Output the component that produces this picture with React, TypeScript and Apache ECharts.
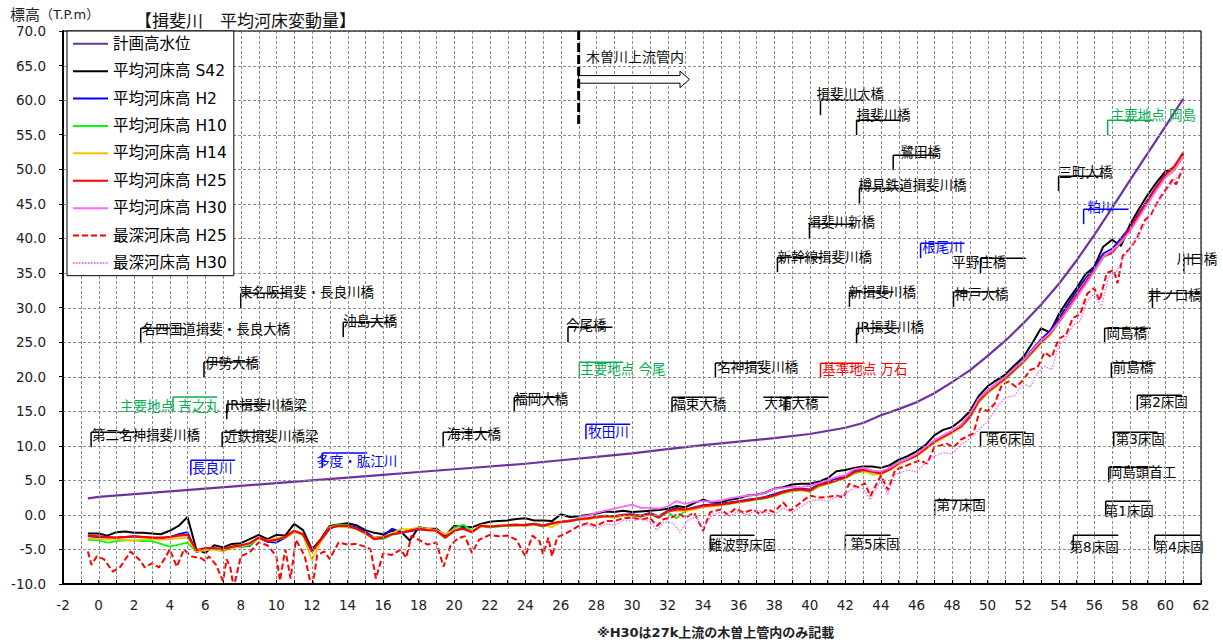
import React, { useEffect, useRef } from 'react';
import * as echarts from 'echarts';

const FONT = "'DejaVu Sans', 'Noto Sans CJK JP', sans-serif";

// grid-line positions (km every 1, elevation every 5)
const gridKm = [
  -2, -1, 0, 1, 2, 3, 4, 5, 6, 7, 8, 9, 10, 11, 12, 13, 14, 15, 16, 17, 18, 19, 20,
  21, 22, 23, 24, 25, 26, 27, 28, 29, 30, 31, 32, 33, 34, 35, 36, 37, 38, 39, 40,
  41, 42, 43, 44, 45, 46, 47, 48, 49, 50, 51, 52, 53, 54, 55, 56, 57, 58, 59, 60, 61, 62,
];
const gridElev = [-10, -5, 0, 5, 10, 15, 20, 25, 30, 35, 40, 45, 50, 55, 60, 65, 70];

// distance (km) shared by the average-bed series
const km = [
  -0.6, 0, 0.5, 1, 1.5, 2, 2.5, 3, 3.5, 4,
  4.5, 5, 5.5, 6, 6.5, 7, 7.5, 8, 8.5, 9,
  9.5, 10, 10.5, 11, 11.5, 12, 12.5, 13, 13.5, 14,
  14.5, 15, 15.5, 16, 16.5, 17, 17.5, 18, 18.5, 19,
  19.5, 20, 20.5, 21, 21.5, 22, 22.5, 23, 23.5, 24,
  24.5, 25, 25.5, 26, 26.5, 27, 27.5, 28, 28.5, 29,
  29.5, 30, 30.5, 31, 31.5, 32, 32.5, 33, 33.5, 34,
  34.5, 35, 35.5, 36, 36.5, 37, 37.5, 38, 38.5, 39,
  39.5, 40, 40.5, 41, 41.5, 42, 42.5, 43, 43.5, 44,
  44.5, 45, 45.5, 46, 46.5, 47, 47.5, 48, 48.5, 49,
  49.5, 50, 50.5, 51, 51.5, 52, 52.5, 53, 53.5, 54,
  54.5, 55, 55.5, 56, 56.5, 57, 57.5, 58, 58.5, 59,
  59.5, 60, 60.5, 61,
];

// 計画高水位
const hwlKm = [-0.6, 0, 2, 4, 6, 8, 10, 12, 14, 16, 18, 20, 22, 24, 26, 28, 30, 32, 34, 36, 38, 40, 42, 43, 44, 45, 46, 47, 48, 49, 50, 51, 52, 53, 54, 55, 56, 57, 58, 59, 60, 61];
const hwlLevel = [2.4, 2.6, 3.0, 3.4, 3.8, 4.2, 4.6, 5.0, 5.4, 5.8, 6.2, 6.6, 7.0, 7.4, 7.9, 8.4, 8.9, 9.5, 10.1, 10.6, 11.1, 11.7, 12.6, 13.3, 14.4, 15.3, 16.3, 17.6, 19.2, 20.9, 23.0, 25.2, 27.7, 30.4, 33.4, 36.8, 40.5, 44.4, 48.4, 52.3, 56.2, 60.2];

const bedS42 = [
  -2.7, -2.7, -3.0, -2.5, -2.4, -2.6, -2.6, -2.7, -2.8, -2.3,
  -1.6, -0.3, -5.0, -5.5, -4.4, -4.7, -4.2, -4.1, -3.5, -2.9,
  -3.5, -2.9, -3.0, -1.3, -2.2, -5.0, -3.5, -1.6, -1.4, -1.2,
  -1.5, -2.2, -2.6, -2.8, -2.3, -2.4, -3.7, -1.8, -2.0, -2.0,
  -3.0, -1.6, -1.7, -1.8, -1.3, -1.0, -0.9, -0.8, -0.6, -0.5,
  -0.8, -0.8, -0.9, 0.1, -0.3, -0.2, 0.0, 0.2, 0.5, 0.4,
  0.6, 0.4, 0.5, 0.6, 0.7, 0.9, 1.3, 1.1, 1.7, 2.2,
  1.8, 1.8, 2.2, 2.4, 2.8, 2.9, 3.2, 3.8, 4.0, 4.4,
  4.5, 4.5, 4.8, 5.3, 6.3, 6.5, 6.8, 7.0, 7.0, 6.8,
  7.2, 8.0, 8.5, 9.2, 10.1, 11.5, 12.3, 12.7, 13.7, 15.0,
  17.2, 18.6, 19.5, 20.3, 21.6, 22.8, 24.8, 27.0, 26.4, 29.0,
  31.0, 32.8, 34.8, 35.9, 38.8, 39.8, 38.9, 42.0, 44.2, 46.3,
  48.1, 49.7, 50.2, 52.2,
];

const bedH2 = [
  -3.1, -3.2, -3.3, -3.3, -3.2, -3.1, -3.2, -3.3, -3.4, -3.2,
  -2.8, -2.5, -5.4, -5.0, -4.9, -5.0, -4.7, -4.6, -4.5, -3.3,
  -3.9, -4.0, -3.3, -2.4, -2.9, -5.1, -3.8, -2.0, -1.5, -1.5,
  -1.8, -2.4, -3.3, -3.1, -2.0, -2.5, -2.4, -2.1, -2.2, -2.1,
  -3.2, -2.2, -1.9, -2.4, -1.6, -1.7, -1.6, -1.6, -1.5, -1.4,
  -1.3, -1.5, -1.3, -1.0, -0.8, -0.7, -0.5, -0.4, -0.1, -0.2,
  0.0, 0.1, -0.1, 0.3, -0.2, 0.6, 1.0, 0.7, 1.1, 1.4,
  1.5, 1.6, 1.8, 2.0, 2.2, 2.4, 2.6, 3.0, 3.4, 3.7,
  3.8, 3.7, 4.4, 4.8, 5.2, 5.6, 6.4, 6.6, 6.4, 6.1,
  6.8, 7.6, 8.1, 8.7, 9.8, 10.7, 11.4, 12.1, 13.0, 14.5,
  16.8, 18.0, 19.0, 20.0, 21.2, 22.4, 23.9, 25.4, 26.6, 28.4,
  30.4, 32.4, 34.2, 35.8, 37.8, 38.5, 40.0, 41.6, 43.6, 45.6,
  47.5, 49.3, 50.4, 52.2,
];

const bedH10 = [
  -3.6, -3.7, -4.0, -3.8, -3.7, -3.7, -3.8, -3.8, -4.2, -4.6,
  -4.3, -4.0, -5.3, -5.0, -5.0, -5.2, -4.8, -4.6, -4.4, -3.4,
  -3.8, -3.6, -3.3, -2.4, -2.9, -5.4, -3.7, -1.8, -1.4, -1.5,
  -2.0, -2.7, -3.4, -3.5, -2.9, -2.6, -2.1, -1.9, -2.1, -2.2,
  -3.4, -1.9, -1.4, -2.3, -1.6, -1.8, -1.7, -1.6, -1.5, -1.6,
  -1.4, -1.7, -1.3, -1.1, -0.9, -0.7, -0.6, -0.4, -0.3, -0.4,
  -0.1, -0.1, -0.3, 0.1, -0.3, 0.4, -0.5, 0.6, 0.9, 1.2,
  1.3, 1.4, 1.6, 1.8, 2.0, 2.2, 2.4, 2.7, 3.1, 3.4,
  3.6, 3.3, 4.1, 4.5, 4.9, 5.3, 6.0, 6.3, 6.1, 5.9,
  6.5, 7.4, 7.9, 8.5, 9.5, 10.4, 11.2, 11.9, 12.7, 14.0,
  16.2, 17.6, 18.6, 19.6, 20.8, 22.0, 23.4, 24.8, 26.0, 27.8,
  29.6, 31.6, 33.4, 35.2, 37.2, 38.0, 39.4, 41.2, 43.2, 45.2,
  47.2, 49.0, 50.2, 52.0,
];

const bedH14 = [
  -3.4, -3.5, -3.6, -3.5, -3.6, -3.8, -3.5, -3.5, -3.6, -3.5,
  -3.4, -3.3, -5.3, -5.1, -5.0, -5.3, -4.9, -4.5, -4.2, -3.4,
  -3.7, -3.4, -3.3, -2.5, -2.9, -6.6, -3.9, -1.7, -1.7, -1.8,
  -2.0, -2.8, -3.3, -3.2, -2.7, -2.0, -2.1, -1.9, -2.0, -2.2,
  -2.8, -2.1, -2.1, -2.4, -1.5, -1.6, -1.6, -1.5, -1.5, -1.6,
  -1.3, -1.5, -1.8, -1.1, -0.8, -0.6, -0.6, -0.4, -0.3, -0.3,
  -0.1, 0.0, -0.2, 0.2, -0.3, 0.5, 0.6, 0.5, 0.8, 1.1,
  1.2, 1.4, 1.7, 1.8, 2.0, 2.3, 2.5, 2.7, 3.2, 3.5,
  3.6, 3.4, 4.2, 4.5, 4.9, 5.3, 6.1, 6.4, 5.8, 5.9,
  6.5, 7.3, 7.9, 8.5, 9.4, 10.4, 11.1, 11.9, 12.6, 14.1,
  16.3, 17.6, 18.6, 19.7, 20.9, 22.0, 23.5, 24.8, 26.0, 27.9,
  29.6, 31.6, 33.5, 35.3, 37.3, 38.2, 39.5, 41.3, 43.3, 45.3,
  47.3, 49.1, 50.1, 52.0,
];

const bedH25 = [
  -3.0, -3.1, -3.2, -3.3, -3.2, -3.1, -3.2, -3.3, -3.3, -3.2,
  -3.0, -2.9, -5.1, -4.8, -4.8, -5.0, -4.6, -4.4, -4.1, -3.3,
  -3.8, -3.6, -3.2, -2.3, -2.8, -5.3, -3.6, -1.9, -1.6, -1.6,
  -2.0, -2.6, -3.5, -3.3, -2.8, -2.6, -2.3, -2.0, -2.2, -2.3,
  -3.3, -2.3, -2.0, -2.5, -1.6, -1.7, -1.6, -1.5, -1.4, -1.5,
  -1.3, -1.6, -1.2, -1.0, -0.9, -0.6, -0.5, -0.3, -0.2, -0.2,
  0.0, 0.0, -0.2, 0.2, -0.4, 0.5, 0.8, 0.8, 1.0, 1.3,
  1.4, 1.5, 1.7, 1.9, 2.1, 2.3, 2.5, 2.8, 3.3, 3.6,
  3.7, 3.5, 4.3, 4.6, 5.0, 5.4, 6.2, 6.5, 6.3, 6.0,
  6.6, 7.5, 8.0, 8.6, 9.6, 10.6, 11.3, 12.0, 12.8, 14.2,
  16.5, 17.8, 18.8, 19.8, 21.0, 22.2, 23.6, 25.0, 26.2, 28.0,
  29.8, 31.8, 33.6, 35.4, 37.4, 37.9, 39.6, 41.4, 43.4, 45.4,
  47.4, 49.2, 50.4, 52.4,
];

// H30 is surveyed only upstream of 27 km
const bedH30StartKm = 27;
const bedH30 = [
  -0.3, -0.1, 0.3, 0.6, 0.9, 1.2, 1.5, 1.0, 1.0, 0.9,
  1.2, 2.0, 1.6, 1.9, 2.0, 1.9, 2.1, 2.4, 2.6, 2.8,
  2.9, 3.2, 3.8, 3.9, 4.1, 4.0, 4.2, 4.6, 5.0, 5.5,
  5.7, 6.6, 6.8, 6.4, 6.3, 6.8, 7.6, 8.1, 8.8, 9.8,
  10.8, 11.5, 12.2, 13.0, 14.6, 16.8, 18.0, 19.0, 20.0, 21.2,
  22.3, 23.8, 25.2, 26.3, 27.8, 29.6, 31.4, 33.3, 35.2, 37.3,
  38.2, 39.5, 41.0, 43.0, 45.0, 47.0, 48.8, 49.8, 51.8,
];

const deepH25Km = [
  -0.6, -0.4, -0.1, 0.3, 0.8, 1.2, 1.8, 2.3, 2.6, 3.0,
  3.4, 3.8, 4.0, 4.4, 4.8, 5.2, 5.8, 6.0, 6.2, 6.6,
  7.0, 7.2, 7.4, 7.6, 8.0, 8.5, 9.0, 9.5, 10.0, 10.2,
  10.5, 10.8, 11.1, 11.6, 12.0, 12.3, 12.7, 13.0, 13.5, 14.0,
  14.5, 15.0, 15.3, 15.6, 16.0, 16.5, 17.0, 17.3, 17.6, 18.0,
  18.5, 19.0, 19.4, 19.8, 20.2, 20.6, 21.0, 21.4, 22.0, 22.5,
  23.0, 23.5, 24.0, 24.4, 24.8, 25.0, 25.3, 25.5, 25.8, 26.2,
  26.6, 27.0, 27.5, 28.0, 28.5, 29.0, 29.5, 30.0, 30.5, 31.0,
  31.4, 31.8, 32.2, 32.6, 33.0, 33.5, 34.0, 34.4, 35.0, 35.4,
  35.8, 36.3, 36.8, 37.2, 37.6, 38.0, 38.5, 38.9, 39.3, 40.0,
  40.5, 41.0, 41.5, 41.9, 42.2, 42.7, 43.1, 43.4, 44.0, 44.4,
  44.8, 45.5, 46.2, 46.6, 47.0, 47.7, 48.1, 48.5, 49.2, 49.6,
  50.0, 50.4, 50.8, 51.2, 51.6, 52.0, 52.4, 52.8, 53.2, 53.6,
  54.0, 54.4, 54.8, 55.2, 55.6, 56.0, 56.3, 56.7, 57.1, 57.3,
  57.6, 58.0, 58.4, 58.8, 59.2, 59.6, 60.0, 60.4, 60.6, 61.0,
];
const deepH25 = [
  -5.3, -7.2, -6.0, -6.4, -8.2, -7.6, -5.3, -6.5, -7.6, -7.0,
  -7.6, -6.0, -5.0, -7.5, -5.0, -6.0, -6.3, -6.7, -6.0, -7.2,
  -9.6, -6.4, -7.5, -10.5, -6.0, -5.4, -4.0, -4.4, -6.0, -9.5,
  -5.0, -9.2, -3.6, -6.0, -10.8, -5.8, -5.3, -6.4, -4.0, -4.3,
  -4.2, -4.6, -5.0, -9.2, -5.6, -5.8, -5.0, -6.2, -3.0, -3.6,
  -4.3, -4.0, -7.5, -4.4, -3.4, -3.1, -5.5, -3.6, -2.9, -3.1,
  -3.0, -3.6, -6.0, -3.0, -3.8, -5.7, -3.3, -6.0, -3.2, -2.8,
  -2.2, -1.6, -1.2, -1.6, -0.9, -0.9, -0.5, -0.4, -0.7, -0.4,
  -1.6, -0.6, -0.4, 0.2, -0.4, 0.3, -2.3, 0.4, 0.8, 0.0,
  0.9, 0.3, 0.8, 0.1, 0.8, 0.4, 1.8, 0.6, 1.4, 2.8,
  2.5, 2.6, 2.8, 2.5, 4.5, 4.0, 4.6, 2.7, 5.7, 3.6,
  6.5, 7.2, 7.9, 7.4, 9.8, 10.3, 9.8, 10.9, 11.8, 15.4,
  15.0, 16.1, 18.8, 19.3, 18.5, 19.5, 21.0, 21.3, 23.5, 22.8,
  25.5, 26.0, 28.5, 29.0, 32.0, 32.8, 31.0, 35.0, 35.4, 33.5,
  37.5, 38.5, 40.0, 42.5, 43.5, 45.5, 47.0, 48.5, 47.8, 50.3,
];

const deepH30Km = [
  27.0, 27.5, 28.0, 28.5, 29.0, 29.5, 30.0, 30.5, 31.0, 31.4,
  31.8, 32.3, 32.7, 33.1, 33.6, 34.0, 34.5, 35.0, 35.5, 36.0,
  36.5, 37.0, 37.5, 38.0, 38.5, 39.0, 39.5, 40.0, 40.5, 41.0,
  41.5, 42.0, 42.5, 43.0, 43.4, 44.0, 44.4, 44.8, 45.5, 46.0,
  46.5, 47.0, 47.5, 48.0, 48.5, 49.0, 49.5, 50.0, 50.5, 51.0,
  51.5, 52.0, 52.4, 52.8, 53.2, 53.6, 54.0, 54.4, 54.8, 55.2,
  55.6, 56.0, 56.4, 56.8, 57.2, 57.6, 58.0, 58.5, 59.0, 59.5,
  60.0, 60.5, 61.0,
];
const deepH30 = [
  -1.8, -1.4, -2.0, -1.3, -1.5, -0.8, -0.9, -0.6, -1.0, -2.2,
  -1.0, -1.2, -2.5, -0.8, -0.3, -1.9, 0.0, 0.4, -0.2, 0.5,
  0.0, 0.6, 0.4, 0.0, 1.0, 0.3, 1.2, 2.0, 2.2, 2.0,
  2.6, 3.0, 4.0, 3.8, 2.2, 5.0, 3.0, 5.8, 6.5, 6.2,
  7.5, 8.5, 9.0, 8.8, 10.2, 11.0, 12.3, 13.5, 15.5, 17.0,
  17.2, 19.0, 18.5, 20.5, 21.5, 21.0, 24.5, 25.5, 27.5, 28.0,
  31.0, 32.0, 30.0, 34.5, 35.0, 37.0, 38.5, 40.5, 42.8, 45.0,
  46.8, 48.3, 50.0,
];

const seriesNames = [
  '計画高水位', '平均河床高 S42', '平均河床高 H2', '平均河床高 H10', '平均河床高 H14',
  '平均河床高 H25', '平均河床高 H30', '最深河床高 H25', '最深河床高 H30',
];

// label rows: [name, bracket km, bracket elevation, line start km, line end km, text km, text elevation]
type Lbl = [string, number, number, number, number, number, number];

const bridgeLabels: Lbl[] = [
  ['第二名神揖斐川橋', -0.42, 11.95, -0.42, 2.16, -0.37, 11.52],
  ['近鉄揖斐川橋梁', 6.95, 11.95, 6.95, 9.48, 7.06, 11.37],
  ['JR揖斐川橋梁', 7.21, 16.0, 7.21, 9.65, 7.17, 15.86],
  ['伊勢大橋', 5.93, 22.13, 5.93, 8.64, 5.99, 21.94],
  ['名四国道揖斐・長良大橋', 2.37, 27.0, 2.37, 4.87, 2.43, 26.86],
  ['東名阪揖斐・長良川橋', 8.0, 32.07, 8.0, 10.6, 7.9, 32.21],
  ['油島大橋', 13.76, 27.87, 13.76, 16.68, 13.76, 28.1],
  ['海津大橋', 19.38, 11.95, 19.38, 22.03, 19.59, 11.66],
  ['福岡大橋', 23.38, 17.02, 23.38, 25.97, 23.38, 16.73],
  ['今尾橋', 26.4, 27.15, 26.4, 28.9, 26.29, 27.44],
  ['福束大橋', 32.25, 17.02, 32.25, 34.75, 32.27, 16.0],
  ['名神揖斐川橋', 34.69, 21.98, 34.69, 37.22, 34.8, 21.36],
  ['大埔大橋', 38.63, 17.02, 37.39, 41.05, 37.45, 16.15],
  ['新幹線揖斐川橋', 38.18, 37.28, 38.18, 40.71, 38.18, 37.28],
  ['揖斐川新橋', 39.98, 42.05, 39.98, 42.46, 39.87, 42.39],
  ['新揖斐川橋', 42.23, 32.26, 42.23, 44.71, 42.18, 32.26],
  ['JR揖斐川橋', 42.63, 27.0, 42.63, 45.1, 42.63, 27.15],
  ['樽見鉄道揖斐川橋', 42.79, 47.22, 42.79, 45.27, 42.74, 47.7],
  ['鷺田橋', 44.69, 52.04, 44.69, 47.18, 45.1, 52.52],
  ['揖斐川橋', 42.63, 57.1, 42.63, 45.1, 42.63, 57.83],
  ['揖斐川大橋', 40.6, 60.0, 40.6, 43.08, 40.37, 60.87],
  ['神戸大橋', 48.08, 32.26, 48.08, 50.56, 48.14, 31.93],
  ['平野庄橋', 49.6, 37.13, 49.6, 52.14, 48.01, 36.6],
  ['三町大橋', 53.99, 49.0, 53.99, 56.47, 53.99, 49.62],
  ['岡島橋', 56.58, 27.0, 56.58, 59.17, 56.69, 26.28],
  ['前島橋', 56.96, 21.98, 56.96, 59.45, 57.03, 21.4],
  ['井ノ口橋', 59.27, 32.07, 59.0, 61.98, 59.0, 31.79],
  ['川口橋', 61.03, 37.13, 61.03, 61.98, 60.63, 36.99],
  ['岡島頭首工', 56.81, 6.89, 56.81, 59.28, 56.81, 6.21],
];

const sillLabels: Lbl[] = [
  ['難波野床固', 34.41, -2.95, 34.41, 36.89, 34.3, -4.4],
  ['第5床固', 42.0, -2.95, 42.0, 44.54, 42.29, -4.27],
  ['第7床固', 47.02, 2.11, 47.02, 49.6, 47.13, 1.39],
  ['第6床固', 49.6, 11.95, 49.6, 52.14, 49.89, 10.94],
  ['第8床固', 54.82, -2.95, 54.82, 57.35, 54.61, -4.65],
  ['第1床固', 56.64, 1.97, 56.64, 59.17, 56.58, 0.56],
  ['第3床固', 57.09, 11.95, 57.09, 59.56, 57.2, 10.94],
  ['第2床固', 58.42, 17.31, 58.42, 60.92, 58.5, 16.34],
  ['第4床固', 59.4, -2.95, 59.4, 61.98, 59.4, -4.65],
];

const tributaryLabels: Lbl[] = [
  ['長良川', 5.19, 7.9, 5.19, 7.68, 5.26, 6.74],
  ['多度・肱江川', 12.58, 8.96, 12.58, 15.11, 12.24, 7.76],
  ['牧田川', 27.41, 13.11, 27.41, 29.9, 27.54, 12.0],
  ['根尾川', 46.23, 39.3, 46.23, 48.7, 46.32, 38.73],
  ['粕川', 55.4, 44.23, 55.4, 57.93, 55.62, 44.47],
];

const keyPointLabels: Lbl[] = [
  ['主要地点 吉之丸', 4.19, 17.06, 4.19, 6.67, 1.21, 15.76],
  ['主要地点 今尾', 27.04, 22.08, 27.04, 29.51, 27.09, 21.07],
  ['主要地点 岡島', 56.75, 57.1, 56.75, 59.28, 56.92, 57.83],
];

const baseLabels: Lbl[] = [
  ['基準地点 万石', 40.6, 21.94, 40.6, 43.08, 40.7, 21.07],
];

// 木曽川上流管内 boundary
const kisoLineKm = 27.0;
const kisoLineElev = [70, 56.5];
const kisoArrowKm = [27.0, 32.7, 33.23];
const kisoArrowElev = 63.0;
const kisoTextPos = [27.41, 66.2];

const KM_MIN = -2, KM_MAX = 62, EL_MIN = -10, EL_MAX = 70;
const crisp = (v: number) => Math.round(v) + 0.5;

function labelSeries(rows: Lbl[], color: string) {
  return {
    type: 'custom',
    coordinateSystem: 'cartesian2d',
    silent: true,
    clip: false,
    z: 6,
    data: rows.map((r) => [r[1], r[2]]),
    encode: { x: 0, y: 1 },
    renderItem: (params: any, api: any) => {
      const r = rows[params.dataIndex];
      const c = api.coord([r[1], r[2]]);
      const h0 = api.coord([r[3], r[2]]);
      const h1 = api.coord([r[4], r[2]]);
      const t = api.coord([r[5], r[6]]);
      return {
        type: 'group',
        children: [
          { type: 'line', shape: { x1: c[0], y1: c[1], x2: c[0], y2: c[1] + 15 }, style: { stroke: color, lineWidth: 1.5 } },
          { type: 'line', shape: { x1: h0[0], y1: h0[1], x2: h1[0], y2: h1[1] }, style: { stroke: color, lineWidth: 1.5 } },
          {
            type: 'text', x: t[0], y: t[1],
            style: { text: r[0], fill: color, fontSize: 13.5, fontFamily: FONT, align: 'left', verticalAlign: 'middle' },
          },
        ],
      };
    },
  };
}

export default function App() {
  const ref = useRef<HTMLDivElement>(null);
  useEffect(() => {
    const chart = echarts.init(ref.current!, undefined, { renderer: 'svg' });
    const upperKm = km.slice(km.indexOf(bedH30StartKm));
    const pairs = (xs: number[], ys: number[]) => xs.map((x, i) => [x, ys[i]]);
    const lineSeries = (name: string, data: number[][], color: string, width: number, type: any = 'solid') => ({
      name, type: 'line', data, symbol: 'none', showSymbol: false,
      lineStyle: { color, width, type }, itemStyle: { color },
      z: 3,
    });
    const option: any = {
      animation: false,
      textStyle: { fontFamily: FONT },
      grid: { left: 63, right: 22, top: 31, bottom: 60 },
      xAxis: {
        type: 'value', min: KM_MIN, max: KM_MAX, interval: 2,
        axisLine: { onZero: false, lineStyle: { color: '#000', width: 2 } },
        axisTick: { inside: true, length: 4, lineStyle: { color: '#000' } },
        minorTick: { show: true, splitNumber: 2, length: 4, lineStyle: { color: '#000' } },
        splitLine: { show: false },
        axisLabel: { fontSize: 13.5, color: '#222', margin: 14, fontFamily: FONT },
        z: 9,
      },
      yAxis: {
        type: 'value', min: EL_MIN, max: EL_MAX, interval: 5,
        axisLine: { show: true, onZero: false, lineStyle: { color: '#000', width: 2 } },
        axisTick: { show: true, inside: false, length: 4, lineStyle: { color: '#000' } },
        splitLine: { show: false },
        axisLabel: { fontSize: 13.5, color: '#222', margin: 17, fontFamily: FONT, formatter: (v: number) => v.toFixed(1) },
        z: 9,
      },
      legend: {
        orient: 'vertical', left: 67, top: 31,
        itemWidth: 35, itemHeight: 16, itemGap: 11.9,
        padding: [5, 7, 5, 5],
        borderColor: '#000', borderWidth: 1, backgroundColor: '#fff',
        textStyle: { fontSize: 15.5, color: '#000', fontFamily: FONT },
        itemStyle: { opacity: 0 },
        data: seriesNames,
        z: 10,
      },
      graphic: [
        {
          type: 'text', left: 10, top: 7,
          style: {
            text: '{a|標高}{b|（T.P.m）}', fill: '#222',
            rich: { a: { fontSize: 15, fontFamily: FONT, fill: '#222' }, b: { fontSize: 13, fontFamily: FONT, fill: '#222' } },
          },
        },
        {
          type: 'text', left: 135, top: 12,
          style: { text: '【揖斐川　平均河床変動量】', fontSize: 17, fontFamily: FONT, fill: '#111' },
        },
        {
          type: 'text', left: 597, top: 626,
          style: { text: '※H30は27k上流の木曽上管内のみ記載', fontSize: 13, fontWeight: 'bold', fontFamily: FONT, fill: '#222' },
        },
      ],
      series: [
        {
          type: 'custom', coordinateSystem: 'cartesian2d', silent: true, clip: false, z: 7,
          data: gridKm.map((k) => [k, EL_MIN]), encode: { x: 0, y: 1 },
          renderItem: (p: any, api: any) => {
            const k = gridKm[p.dataIndex];
            const a = api.coord([k, EL_MIN]);
            const b = api.coord([k, EL_MAX]);
            const x = crisp(a[0]);
            return { type: 'group', children: [{ type: 'line', shape: { x1: x, y1: a[1], x2: x, y2: b[1] }, style: { stroke: '#8c8c8c', lineWidth: 1, lineDash: [3, 2], opacity: 1 } }] };
          },
        },
        {
          type: 'custom', coordinateSystem: 'cartesian2d', silent: true, clip: false, z: 7,
          data: gridElev.map((e) => [KM_MIN, e]), encode: { x: 0, y: 1 },
          renderItem: (p: any, api: any) => {
            const e = gridElev[p.dataIndex];
            const a = api.coord([KM_MIN, e]);
            const b = api.coord([KM_MAX, e]);
            const y = crisp(a[1]);
            return { type: 'group', children: [{ type: 'line', shape: { x1: a[0], y1: y, x2: b[0], y2: y }, style: { stroke: '#8c8c8c', lineWidth: 1, lineDash: [3, 2], opacity: 1 } }] };
          },
        },
        {
          type: 'custom', coordinateSystem: 'cartesian2d', silent: true, clip: false, z: 8,
          data: [[KM_MAX, EL_MAX]], encode: { x: 0, y: 1 },
          renderItem: (_p: any, api: any) => {
            const tl = api.coord([KM_MIN, EL_MAX]);
            const tr = api.coord([KM_MAX, EL_MAX]);
            const br = api.coord([KM_MAX, EL_MIN]);
            return {
              type: 'group',
              children: [
                { type: 'line', shape: { x1: tl[0], y1: tl[1], x2: tr[0], y2: tr[1] }, style: { stroke: '#404040', lineWidth: 1.5 } },
                { type: 'line', shape: { x1: tr[0], y1: tr[1], x2: br[0], y2: br[1] }, style: { stroke: '#404040', lineWidth: 1.5 } },
              ],
            };
          },
        },
        lineSeries(seriesNames[0], pairs(hwlKm, hwlLevel), '#7030A0', 2.2),
        lineSeries(seriesNames[1], pairs(km, bedS42), '#000000', 2),
        lineSeries(seriesNames[2], pairs(km, bedH2), '#0000FF', 1.8),
        lineSeries(seriesNames[3], pairs(km, bedH10), '#00FF00', 1.8),
        lineSeries(seriesNames[4], pairs(km, bedH14), '#FFC000', 1.8),
        lineSeries(seriesNames[5], pairs(km, bedH25), '#FF0000', 2.2),
        lineSeries(seriesNames[6], pairs(upperKm, bedH30), '#FF66FF', 1.8),
        lineSeries(seriesNames[7], pairs(deepH25Km, deepH25), '#FF0000', 2, [6, 3]),
        lineSeries(seriesNames[8], pairs(deepH30Km, deepH30), '#FF66FF', 1.3, [1.5, 1.5]),
        labelSeries(bridgeLabels, '#000000'),
        labelSeries(sillLabels, '#000000'),
        labelSeries(tributaryLabels, '#0000FF'),
        labelSeries(keyPointLabels, '#00B050'),
        labelSeries(baseLabels, '#FF0000'),
        {
          type: 'custom',
          coordinateSystem: 'cartesian2d',
          silent: true, clip: false, z: 9,
          data: [[kisoLineKm, kisoArrowElev]],
          encode: { x: 0, y: 1 },
          renderItem: (_p: any, api: any) => {
            const top = api.coord([kisoLineKm, kisoLineElev[0]]);
            const bot = api.coord([kisoLineKm, kisoLineElev[1]]);
            const a0 = api.coord([kisoArrowKm[0], kisoArrowElev]);
            const a1 = api.coord([kisoArrowKm[1], kisoArrowElev]);
            const a2 = api.coord([kisoArrowKm[2], kisoArrowElev]);
            const t = api.coord(kisoTextPos);
            const y = a0[1];
            return {
              type: 'group',
              children: [
                {
                  type: 'polygon',
                  shape: { points: [[a0[0], y - 3.8], [a1[0], y - 3.8], [a1[0], y - 8.3], [a2[0], y], [a1[0], y + 8.3], [a1[0], y + 3.8], [a0[0], y + 3.8]] },
                  style: { fill: '#fff', stroke: '#000', lineWidth: 1 },
                },
                { type: 'line', shape: { x1: top[0], y1: top[1], x2: bot[0], y2: bot[1] }, style: { stroke: '#000', lineWidth: 3, lineDash: [9, 3] } },
                { type: 'text', x: t[0], y: t[1], style: { text: '木曽川上流管内', fill: '#111', fontSize: 14, fontFamily: FONT, align: 'left', verticalAlign: 'middle' } },
              ],
            };
          },
        },
      ],
    };
    chart.setOption(option);
    return () => chart.dispose();
  }, []);
  return <div ref={ref} style={{ position: 'fixed', left: 0, top: 0, width: 1223, height: 644, background: '#fff' }} />;
}
